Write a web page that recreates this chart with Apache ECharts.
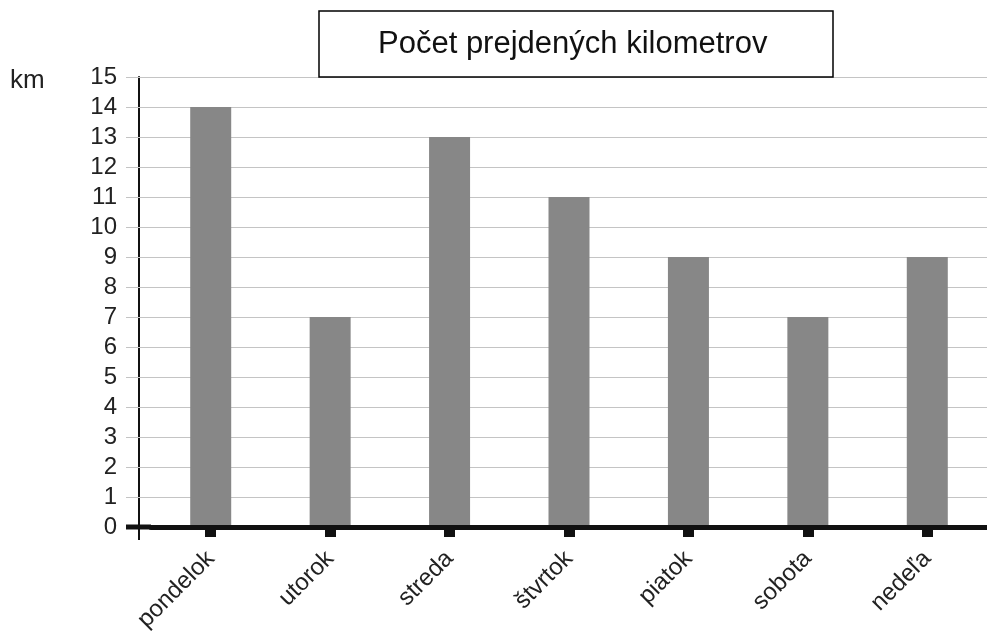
<!DOCTYPE html>
<html>
<head>
<meta charset="utf-8">
<title>Počet prejdených kilometrov</title>
<script src="https://cdn.jsdelivr.net/npm/echarts@6/dist/echarts.min.js"></script>
<style>
    html, body { margin: 0; padding: 0; background: #fff; }
    #main { width: 987px; height: 631px; }
</style>
</head>
<body>
<div id="main"></div>
<script>
// data
const days = ['pondelok', 'utorok', 'streda', 'štvrtok', 'piatok', 'sobota', 'nedeľa'];
const kmValues = [14, 7, 13, 11, 9, 7, 9];
const yTicks = { min: 0, max: 15, step: 1 };

const font = '"Liberation Sans", Arial, sans-serif';
const gridLeft = 151;
const yOffset = 12;

const chart = echarts.init(document.getElementById('main'));

const option = {
    animation: false,
    title: [
        {
            text: 'Počet prejdených kilometrov',
            left: 319,
            top: 11,
            padding: [18, 66, 17, 59],
            borderColor: '#000',
            borderWidth: 1.5,
            textStyle: { fontFamily: font, fontSize: 31, fontWeight: 'normal', color: '#111' }
        },
        {
            text: 'km',
            left: 5,
            top: 63,
            textStyle: { fontFamily: font, fontSize: 26, fontWeight: 'normal', color: '#222' }
        }
    ],
    grid: { left: gridLeft, right: 0, top: 77, bottom: 104, containLabel: false, outerBoundsMode: 'none' },
    xAxis: {
        type: 'category',
        data: days,
        z: 3,
        axisLine: { show: true, lineStyle: { color: '#111', width: 5 } },
        axisTick: { show: true, alignWithLabel: true, length: 10, lineStyle: { color: '#111', width: 11 } },
        axisLabel: { rotate: 45, margin: 28, fontFamily: font, fontSize: 24, color: '#222', interval: 0 }
    },
    yAxis: [
        {
            type: 'value',
            min: yTicks.min,
            max: yTicks.max,
            interval: yTicks.step,
            offset: yOffset,
            axisLine: { show: true, lineStyle: { color: '#111', width: 2 } },
            axisTick: { show: true, length: 13, lineStyle: { color: '#c4c4c4', width: 1 } },
            axisLabel: { margin: 22, fontFamily: font, fontSize: 24, color: '#222' },
            splitLine: { show: true, lineStyle: { color: '#c4c4c4', width: 1 } }
        },
        {
            type: 'value',
            position: 'left',
            min: yTicks.min,
            max: yTicks.max,
            interval: yTicks.step,
            offset: 0,
            axisLine: { show: false },
            axisTick: { show: true, length: yOffset, lineStyle: { color: '#c4c4c4', width: 1 } },
            axisLabel: { show: false },
            splitLine: { show: false }
        }
    ],
    series: [
        {
            type: 'bar',
            data: kmValues,
            barWidth: 41,
            itemStyle: { color: '#878787' }
        }
    ]
};

chart.setOption(option);

// extend the axis lines past the grid, as in the original figure
const y0 = chart.convertToPixel({ yAxisIndex: 0 }, 0);
const axisX = gridLeft - yOffset;
chart.setOption({
    graphic: [
        {
            type: 'line',
            z: 10,
            shape: { x1: axisX - 13, y1: y0, x2: gridLeft, y2: y0 },
            style: { stroke: '#111', lineWidth: 5 }
        },
        {
            type: 'line',
            z: 10,
            shape: { x1: axisX, y1: y0, x2: axisX, y2: y0 + 13 },
            style: { stroke: '#111', lineWidth: 2 }
        }
    ]
});
</script>
</body>
</html>
